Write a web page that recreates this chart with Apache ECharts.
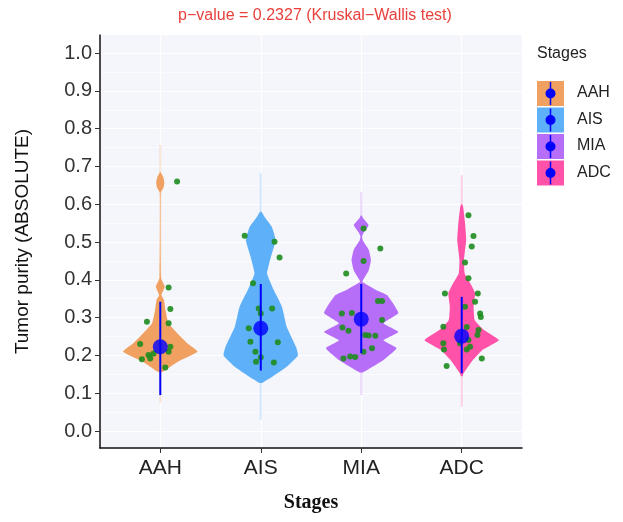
<!DOCTYPE html>
<html>
<head>
<meta charset="utf-8">
<script src="https://cdn.jsdelivr.net/npm/echarts@6/dist/echarts.min.js"></script>
<style>html,body{margin:0;padding:0;background:#fff}#c{width:623px;height:522px}</style>
</head>
<body>
<div id="c"></div>
<script>
var stages = ['AAH', 'AIS', 'MIA', 'ADC'];
var colors = ['#F0A060', '#5EB0F8', '#B66EF8', '#FF52A8'];
var yTicks = [0, 0.1, 0.2, 0.3, 0.4, 0.5, 0.6, 0.7, 0.8, 0.9, 1.0];

// violin outlines: [value, relative half width]
var violinAAH = [[0.155, 0.02], [0.161, 0.14], [0.185, 0.5], [0.21, 1.0], [0.23, 0.75], [0.25, 0.54], [0.285, 0.22], [0.32, 0.14], [0.347, 0.1], [0.36, 0.03], [0.382, 0.12], [0.405, 0.02], [0.63, 0.01], [0.645, 0.09], [0.657, 0.11], [0.672, 0.08], [0.685, 0.01]];
var violinAIS = [[0.127, 0.03], [0.143, 0.3], [0.17, 0.7], [0.2, 1.0], [0.222, 0.95], [0.275, 0.7], [0.329, 0.57], [0.373, 0.35], [0.417, 0.17], [0.46, 0.27], [0.505, 0.4], [0.54, 0.3], [0.567, 0.1], [0.58, 0.02]];
var violinMIA = [[0.155, 0.03], [0.161, 0.15], [0.188, 0.6], [0.219, 0.95], [0.24, 0.6], [0.262, 1.0], [0.285, 0.6], [0.312, 1.0], [0.359, 0.7], [0.373, 0.4], [0.394, 0.03], [0.4, 0.05], [0.425, 0.2], [0.452, 0.26], [0.48, 0.2], [0.505, 0.04], [0.515, 0.02], [0.524, 0.06], [0.545, 0.2], [0.563, 0.05], [0.57, 0.01]];
var violinADC = [[0.145, 0.02], [0.153, 0.05], [0.188, 0.3], [0.214, 0.55], [0.24, 1.0], [0.267, 0.6], [0.293, 0.35], [0.33, 0.32], [0.365, 0.36], [0.391, 0.23], [0.417, 0.08], [0.452, 0.06], [0.505, 0.12], [0.55, 0.09], [0.593, 0.04], [0.6, 0.01]];
var violins = [violinAAH, violinAIS, violinMIA, violinADC];
// faint full-range line of each violin [low, high]
var tails = [[0.074, 0.757], [0.03, 0.682], [0.095, 0.632], [0.064, 0.677]];

// jittered points: [x offset in category units, value]
var ptsAAH = [[0.167, 0.66], [0.083, 0.38], [0.1, 0.323], [-0.133, 0.289], [0.083, 0.285], [-0.2, 0.23], [0.1, 0.223], [0.083, 0.21], [-0.117, 0.201], [-0.1, 0.192], [-0.183, 0.19], [0.05, 0.168], [-0.067, 0.205]];
var ptsAIS = [[-0.16, 0.517], [0.137, 0.501], [0.187, 0.459], [-0.077, 0.391], [-0.02, 0.324], [0.113, 0.324], [0, 0.311], [-0.12, 0.272], [-0.103, 0.236], [0.17, 0.235], [-0.053, 0.21], [0, 0.195], [-0.047, 0.183], [0.13, 0.181]];
var ptsMIA = [[0.023, 0.536], [0.19, 0.483], [0.023, 0.45], [-0.15, 0.417], [0.167, 0.344], [0.207, 0.344], [-0.193, 0.311], [-0.093, 0.312], [0.207, 0.294], [-0.187, 0.274], [-0.127, 0.265], [0.04, 0.254], [0.073, 0.253], [0.14, 0.252], [0.107, 0.219], [0.023, 0.21], [-0.177, 0.192], [-0.11, 0.197], [-0.06, 0.196]];
var ptsADC = [[0.067, 0.571], [0.117, 0.516], [0.1, 0.488], [0.033, 0.446], [0.067, 0.404], [-0.167, 0.364], [0.16, 0.364], [0.133, 0.342], [0.033, 0.329], [0.183, 0.311], [0.19, 0.302], [-0.183, 0.276], [0.05, 0.275], [0.167, 0.267], [0.157, 0.254], [-0.183, 0.232], [-0.017, 0.232], [0.067, 0.241], [0.083, 0.223], [0.05, 0.216], [-0.177, 0.216], [0.2, 0.192], [-0.15, 0.172]];
var points = [ptsAAH, ptsAIS, ptsMIA, ptsADC];

var means = [0.223, 0.272, 0.296, 0.251];
var lows = [0.095, 0.16, 0.206, 0.153];
var highs = [0.342, 0.389, 0.389, 0.355];

var chart = echarts.init(document.getElementById('c'));

var scatterData = [];
points.forEach(function (p, i) {
  p.forEach(function (d) { scatterData.push([i + d[0], d[1]]); });
});

function violinItem(params, api) {
  var i = api.value(0);
  var prof = violins[i];
  var half = api.size([1, 0])[0] * 0.37;
  var left = [], right = [];
  prof.forEach(function (d) {
    var c = api.coord([i, d[0]]);
    right.push([c[0] + d[1] * half, c[1]]);
    left.unshift([c[0] - d[1] * half, c[1]]);
  });
  var t0 = api.coord([i, tails[i][0]]), t1 = api.coord([i, tails[i][1]]);
  return {
    type: 'group',
    children: [
      { type: 'line', shape: { x1: t0[0], y1: t0[1], x2: t1[0], y2: t1[1] },
        style: { stroke: colors[i], opacity: 0.25, lineWidth: 2 } },
      { type: 'polygon', shape: { points: right.concat(left), smooth: 0.12 },
        style: { fill: colors[i] } }
    ]
  };
}

function barItem(params, api) {
  var i = api.value(0);
  var a = api.coord([i, api.value(1)]), b = api.coord([i, api.value(2)]);
  return { type: 'line', shape: { x1: a[0], y1: a[1], x2: b[0], y2: b[1] },
    style: { stroke: '#0000FF', lineWidth: 2 } };
}

var legend = [{ type: 'text', left: 537, top: 46, style: { text: 'Stages', font: '16px Liberation Sans, Arial', fill: '#222' } }];
stages.forEach(function (s, i) {
  var y = 81 + i * 26.5;
  legend.push({ type: 'rect', shape: { x: 537, y: y, width: 27, height: 25 }, style: { fill: colors[i] } });
  legend.push({ type: 'line', shape: { x1: 550.5, y1: y + 1, x2: 550.5, y2: y + 24 }, style: { stroke: '#0000FF', lineWidth: 1.5 } });
  legend.push({ type: 'circle', shape: { cx: 550.5, cy: y + 12.5, r: 5 }, style: { fill: '#0000FF' } });
  legend.push({ type: 'text', left: 577, top: y + 4, style: { text: s, font: '16px Liberation Sans, Arial', fill: '#222' } });
});

var option = {
  animation: false,
  backgroundColor: '#fff',
  title: {
    text: 'p\u2212value = 0.2327 (Kruskal\u2212Wallis test)',
    left: 310, top: 3, textAlign: 'center',
    textStyle: { color: '#E8413C', fontSize: 16, fontWeight: 'normal', fontFamily: 'Liberation Sans, Arial' }
  },
  grid: { left: 100, right: 101, top: 35, bottom: 74, show: true, backgroundColor: '#F5F6FB', borderWidth: 0 },
  xAxis: {
    type: 'value', min: -0.6, max: 3.6,
    name: 'Stages', nameLocation: 'middle', nameGap: 45,
    nameTextStyle: { fontSize: 20, fontWeight: 'bold', fontFamily: 'Liberation Serif, Times New Roman', color: '#111' },
    axisLine: { show: true, onZero: false, lineStyle: { color: '#111', width: 1.5 } },
    axisTick: { show: true, customValues: [0, 1, 2, 3], length: 5, lineStyle: { color: '#333' } },
    axisLabel: { customValues: [0, 1, 2, 3], formatter: function (v) { return stages[Math.round(v)]; },
      fontSize: 21, color: '#222', margin: 10, fontFamily: 'Liberation Sans, Arial' },
    splitLine: { show: false }
  },
  yAxis: {
    type: 'value', min: -0.045, max: 1.048,
    name: 'Tumor purity (ABSOLUTE)', nameLocation: 'middle', nameGap: 68,
    nameTextStyle: { fontSize: 19, color: '#111', fontFamily: 'Liberation Sans, Arial' },
    axisLine: { show: true, onZero: false, lineStyle: { color: '#111', width: 1.5 } },
    axisTick: { show: true, customValues: yTicks, length: 5, lineStyle: { color: '#333' } },
    axisLabel: { customValues: yTicks, formatter: function (v) { return v.toFixed(1); },
      fontSize: 20, color: '#333', margin: 8, fontFamily: 'Liberation Sans, Arial' },
    splitLine: { show: false }
  },
  graphic: legend,
  series: [
    { type: 'line', silent: true, z: 0, data: [], markLine: {
        silent: true, symbol: 'none', label: { show: false }, z: 0,
        lineStyle: { color: '#fff', type: 'solid', width: 1.2 },
        data: yTicks.map(function (v) { return { yAxis: v }; })
          .concat(yTicks.slice(0, 10).map(function (v) { return { yAxis: v + 0.05, lineStyle: { width: 0.6 } }; }))
          .concat([0, 1, 2, 3].map(function (v) { return { xAxis: v }; }))
      } },
    { type: 'custom', renderItem: violinItem, data: [[0], [1], [2], [3]], z: 2 },
    { type: 'scatter', data: scatterData, symbolSize: 6, itemStyle: { color: '#1E8C1E', opacity: 0.9 }, z: 3 },
    { type: 'custom', renderItem: barItem, data: stages.map(function (s, i) { return [i, lows[i], highs[i]]; }), z: 4 },
    { type: 'scatter', data: means.map(function (m, i) { return [i, m]; }), symbolSize: 15, itemStyle: { color: '#0000FF' }, z: 5 }
  ]
};
chart.setOption(option);
</script>
</body>
</html>
